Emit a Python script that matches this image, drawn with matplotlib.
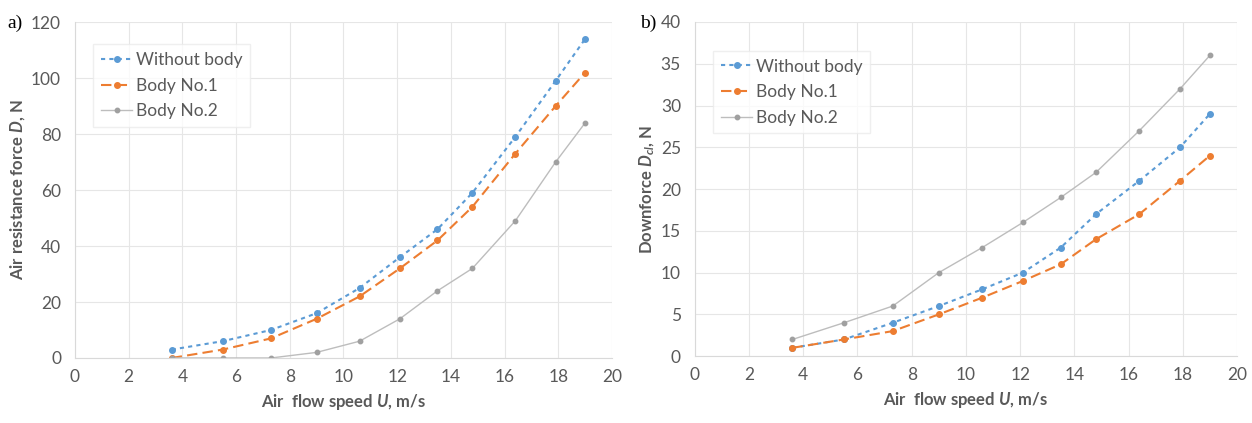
import matplotlib.pyplot as plt

# air flow speed, m/s (same for both panels)
speed = [3.6, 5.5, 7.3, 9.0, 10.6, 12.1, 13.5, 14.8, 16.4, 17.9, 19.0]

# a) air resistance force D, N
drag_without = [3, 6, 10, 16, 25, 36, 46, 59, 79, 99, 114]
drag_body1 = [0, 3, 7, 14, 22, 32, 42, 54, 73, 90, 102]
drag_body2 = [0, 0, 0, 2, 6, 14, 24, 32, 49, 70, 84]

# b) downforce, N
down_without = [1, 2, 4, 6, 8, 10, 13, 17, 21, 25, 29]
down_body1 = [1, 2, 3, 5, 7, 9, 11, 14, 17, 21, 24]
down_body2 = [2, 4, 6, 10, 13, 16, 19, 22, 27, 32, 36]

series_names = ["Without body", "Body No.1", "Body No.2"]

plt.rcParams['font.family'] = ['Lato', 'DejaVu Sans']
plt.rcParams['mathtext.fontset'] = 'custom'
plt.rcParams['mathtext.bfit'] = 'Lato:italic:bold'
plt.rcParams['mathtext.it'] = 'Lato:italic'
txt = '#595959'
blue, orange, grey = '#5B9BD5', '#ED7D31', '#BDBDBD'

fig = plt.figure(figsize=(12.52, 4.23), dpi=100)
ax1 = fig.add_axes([0.0599, 0.1537, 0.4289, 0.794])
ax2 = fig.add_axes([0.555, 0.158, 0.433, 0.790])


def draw(ax, y1, y2, y3, ymax, ystep, ylabel, leg_y):
    ax.plot(speed, y1, color=blue, ls=(0, (2, 2)), lw=1.5, marker='o', ms=4, label=series_names[0])
    ax.plot(speed, y2, color=orange, ls=(0, (5, 2.5)), lw=1.5, marker='o', ms=4, label=series_names[1])
    ax.plot(speed, y3, color=grey, ls='-', lw=1.0, marker='o', ms=3.2, mfc='#A0A0A0', mec='#A0A0A0',
            label=series_names[2])
    ax.set_xlim(0, 20)
    ax.set_ylim(0, ymax)
    ax.set_xticks(range(0, 21, 2))
    ax.set_yticks(range(0, ymax + 1, ystep))
    ax.grid(True, color='#E6E6E6', lw=0.8)
    ax.set_axisbelow(True)
    for s in ['top', 'right']:
        ax.spines[s].set_visible(False)
    for s in ['left', 'bottom']:
        ax.spines[s].set_color('#D9D9D9')
    ax.tick_params(axis='y', length=0, labelsize=12.5, colors=txt, pad=10)
    ax.tick_params(axis='x', length=0, labelsize=12.5, colors=txt, pad=8)
    ax.set_xlabel(r'Air  flow speed $\mathbfit{U}$, m/s', fontsize=12, color=txt, fontweight='bold', labelpad=5)
    ax.set_ylabel(ylabel, fontsize=12, color=txt, fontweight='bold', labelpad=3)
    leg = ax.legend(loc='upper left', bbox_to_anchor=(0.018, leg_y), fontsize=12.5, frameon=True,
                    fancybox=False, edgecolor='#EBEBEB', handlelength=1.8, handletextpad=0.2,
                    borderpad=0.45, labelspacing=0.55)
    for t in leg.get_texts():
        t.set_color(txt)


draw(ax1, drag_without, drag_body1, drag_body2, 120, 20, r'Air resistance force $\mathbfit{D}$, N', 0.96)
draw(ax2, down_without, down_body1, down_body2, 40, 5, r'Downforce $\mathbfit{D}_{\mathbfit{cl}}$, N', 0.94)

fig.text(0.006, 0.945, 'a)', family='Liberation Serif', fontsize=14, color='black', va='center')
fig.text(0.511, 0.945, 'b)', family='Liberation Serif', fontsize=14, color='black', va='center')

fig.savefig('out.png', dpi=100)
